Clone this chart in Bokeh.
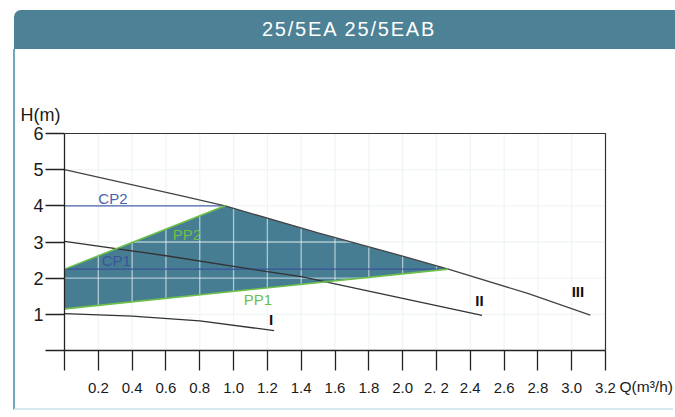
from bokeh.plotting import figure
from bokeh.layouts import column
from bokeh.models import Range1d, FixedTicker, Div
from bokeh.core.properties import value
from bokeh.embed import file_html
from bokeh.resources import INLINE

# ---------------- data ----------------
title_text = "25/5EA 25/5EAB"
x_title = "Q(m³/h)"
y_title = "H(m)"

x_ticks = [0, 0.2, 0.4, 0.6, 0.8, 1.0, 1.2, 1.4, 1.6, 1.8, 2.0, 2.2, 2.4, 2.6, 2.8, 3.0, 3.2]
x_tick_labels = ["", "0.2", "0.4", "0.6", "0.8", "1.0", "1.2", "1.4", "1.6", "1.8", "2.0",
                 "2. 2", "2.4", "2.6", "2.8", "3.0", "3.2"]
y_ticks = [0, 1, 2, 3, 4, 5, 6]
y_tick_labels = ["", "1", "2", "3", "4", "5", "6"]

# speed curves I, II, III
q_I = [0, 0.4, 0.8, 1.24]
h_I = [1.02, 0.95, 0.82, 0.55]
q_II = [0, 0.6, 1.2, 1.4, 1.8, 2.47]
h_II = [3.02, 2.62, 2.18, 2.04, 1.64, 0.97]
q_III = [0, 0.7, 0.95, 1.5, 2.0, 2.27, 2.74, 3.11]
h_III = [5.0, 4.27, 4.0, 3.25, 2.61, 2.25, 1.58, 0.98]

# proportional pressure lines
q_PP1 = [0, 2.27]
h_PP1 = [1.15, 2.25]
q_PP2 = [0, 0.95]
h_PP2 = [2.25, 4.0]

# constant pressure lines
q_CP1 = [0, 2.27]
h_CP1 = [2.25, 2.25]
q_CP2 = [0, 0.93]
h_CP2 = [4.0, 4.0]

# curve labels
lab_text = ["CP2", "CP1", "PP2", "PP1", "I", "II", "III"]
lab_q = [0.20, 0.22, 0.64, 1.06, 1.21, 2.43, 3.0]
lab_h = [4.21, 2.5, 3.22, 1.42, 0.87, 1.37, 1.64]
lab_color = ["#4a64a8", "#3a5599", "#6cbf4a", "#6cbf4a", "#111111", "#111111", "#111111"]

# ---------------- layout (pixels) ----------------
FIG_W, FIG_H = 660, 361          # drawing area of the panel (x 15..675, y 49..410)
BOX_L, BOX_R = 49, 590           # chart box inside the panel
BOX_T, BOX_B = 84, 301

# ---------------- header ----------------
header = Div(text=title_text, width=661, height=39, margin=(10, 0, 0, 14),
             styles={"background-color": "#4c8196", "color": "white",
                     "font-family": "'Liberation Sans', Arial, sans-serif",
                     "font-size": "20px", "letter-spacing": "1.8px",
                     "text-align": "center", "line-height": "39px",
                     "padding-left": "9px", "box-sizing": "border-box",
                     "border-top-left-radius": "7px"})

# ---------------- main chart ----------------
q0, q1 = x_ticks[0], x_ticks[-1]
h0, h1 = y_ticks[0], y_ticks[-1]
px_q = (BOX_R - BOX_L) / (q1 - q0)
px_h = (BOX_B - BOX_T) / (h1 - h0)
x_range = Range1d(q0 - BOX_L / px_q, q1 + (FIG_W - BOX_R) / px_q)
y_range = Range1d(h0 - (FIG_H - BOX_B) / px_h, h1 + BOX_T / px_h)

p = figure(width=FIG_W, height=FIG_H, x_range=x_range, y_range=y_range,
           toolbar_location=None, output_backend="svg", margin=(0, 0, 0, 13),
           styles={"border-left": "2px solid #6fa9be", "border-bottom": "2px solid #d5e9f1"},
           min_border=0, min_border_left=0, min_border_right=0,
           min_border_top=0, min_border_bottom=0)
p.background_fill_color = "white"
p.border_fill_color = "white"
p.outline_line_color = None
p.xgrid.visible = False
p.ygrid.visible = False

# shaded operating region
reg_q = list(q_PP1) + [q for q in reversed(q_III) if q_PP2[-1] <= q <= q_PP1[-1]][1:] + [q_PP2[0]]
reg_h = list(h_PP1) + [h for q, h in reversed(list(zip(q_III, h_III))) if q_PP2[-1] <= q <= q_PP1[-1]][1:] + [h_PP2[0]]
p.patch(reg_q, reg_h, fill_color="#467d93", line_color=None)

# grid lines (inside the chart box only)
gx = x_ticks[1:-1]
p.segment(x0=gx, y0=[h0] * len(gx), x1=gx, y1=[h1] * len(gx),
          line_color="#e8eff2", line_alpha=0.65, line_width=1.3)
gy = y_ticks[1:-1]
p.segment(x0=[q0] * len(gy), y0=gy, x1=[q1] * len(gy), y1=gy,
          line_color="#e8eff2", line_alpha=0.65, line_width=1.3)

# box top and right edges
p.line([q0, q1, q1], [h1, h1, h0], line_color="#333333", line_width=1.2)

# lines
p.line(q_CP1, h_CP1, line_color="#3a5599", line_width=1.2)
p.line(q_CP2, h_CP2, line_color="#4a64a8", line_width=1.2)
p.line(q_I, h_I, line_color="#333333", line_width=1.3)
p.line(q_II, h_II, line_color="#333333", line_width=1.3)
p.line(q_III, h_III, line_color="#444444", line_width=1.3)
p.line(q_PP1, h_PP1, line_color="#6cc04a", line_width=1.6)
p.line(q_PP2, h_PP2, line_color="#6cc04a", line_width=1.6)

# curve labels
for t, xq, yh, c in zip(lab_text, lab_q, lab_h, lab_color):
    roman = t in ("I", "II", "III")
    p.text(x=[xq], y=[yh], text=[t], text_color=c,
           text_font=value("Liberation Sans"),
           text_font_size="15px",
           text_font_style="bold" if roman else "normal",
           text_align="left", text_baseline="middle")

# axis titles
p.text(x=[-0.26], y=[6.5], text=[y_title], text_color="#1a1a1a",
       text_font=value("Liberation Sans"), text_font_size="18px",
       text_align="left", text_baseline="middle")
p.text(x=[3.283], y=[-1.0], text=[x_title], text_color="#1a1a1a",
       text_font=value("Liberation Sans"), text_font_size="15.5px",
       text_align="left", text_baseline="middle")

# axes at the chart box
p.xaxis.fixed_location = h0
p.yaxis.fixed_location = q0
p.xaxis.bounds = (q0, q1)
p.yaxis.bounds = (h0, h1)
p.xaxis.ticker = FixedTicker(ticks=x_ticks)
p.xaxis.major_label_overrides = dict(zip(x_ticks, x_tick_labels))
p.yaxis.ticker = FixedTicker(ticks=y_ticks)
p.yaxis.major_label_overrides = dict(zip(y_ticks, y_tick_labels))
for ax in (p.xaxis, p.yaxis):
    ax.axis_line_color = "#222222"
    ax.axis_line_width = 1.3
    ax.major_tick_line_color = "#222222"
    ax.major_tick_line_width = 1.3
    ax.major_tick_in = 0
    ax.minor_tick_line_color = None
    ax.major_label_text_font = "Liberation Sans"
    ax.major_label_text_color = "#1a1a1a"
p.xaxis.major_tick_out = 20
p.xaxis.major_label_standoff = 8
p.xaxis.major_label_text_font_size = "15px"
p.yaxis.major_tick_out = 19
p.yaxis.major_label_standoff = 2
p.yaxis.major_label_text_font_size = "18px"

layout = column(header, p, spacing=0)
open("out.html", "w").write(file_html(layout, INLINE))
